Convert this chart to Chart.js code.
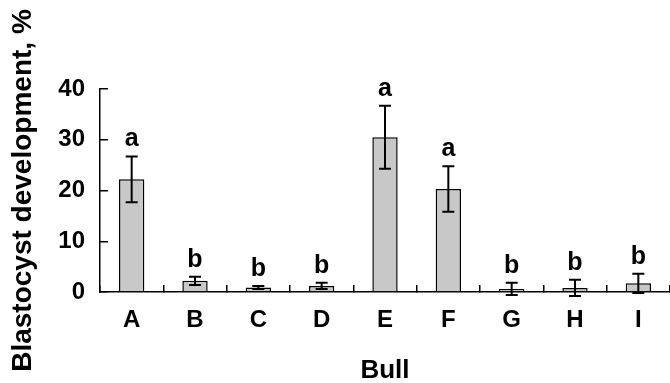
<!DOCTYPE html>
<html>
<head>
<meta charset="utf-8">
<script src="https://cdn.jsdelivr.net/npm/chart.js@4"></script>
<style>
  html, body { margin: 0; padding: 0; background: #fff; }
  #wrap { width: 670px; height: 383px; }
</style>
</head>
<body>
<div id="wrap"><canvas id="chart" width="670" height="383"></canvas></div>
<script>
// Data
const bulls = ['A', 'B', 'C', 'D', 'E', 'F', 'G', 'H', 'I'];
const blastocyst = [22.2, 2.2, 0.9, 1.2, 30.5, 20.3, 0.6, 0.8, 1.7];
const sem = [4.5, 0.8, 0.3, 0.6, 6.2, 4.5, 1.2, 1.6, 1.9];
const letters = ['a', 'b', 'b', 'b', 'a', 'a', 'b', 'b', 'b'];
const yTicks = [0, 10, 20, 30, 40];

const FONT = '"Liberation Sans", Arial, Helvetica, sans-serif';

// Error bars + significance letters
const errorBars = {
    id: 'errorBars',
    afterDatasetsDraw(chart) {
        const { ctx, scales: { x, y } } = chart;
        ctx.save();
        ctx.strokeStyle = '#000';
        ctx.lineWidth = 2;
        ctx.fillStyle = '#000';
        ctx.font = 'bold 25px ' + FONT;
        ctx.textAlign = 'center';
        ctx.textBaseline = 'alphabetic';
        blastocyst.forEach((v, i) => {
            const cx = x.getPixelForValue(i);
            const top = y.getPixelForValue(v + sem[i]);
            const bot = y.getPixelForValue(v - sem[i]);
            ctx.beginPath();
            ctx.moveTo(cx, top); ctx.lineTo(cx, bot);
            ctx.moveTo(cx - 6, top); ctx.lineTo(cx + 6, top);
            ctx.moveTo(cx - 6, bot); ctx.lineTo(cx + 6, bot);
            ctx.stroke();
            ctx.fillText(letters[i], cx, top - 10);
        });
        ctx.restore();
    }
};

const ctx = document.getElementById('chart').getContext('2d');
const chart = new Chart(ctx, {
    type: 'bar',
    data: {
        labels: bulls,
        datasets: [{
            data: blastocyst,
            backgroundColor: '#c8c8c8',
            borderColor: '#000',
            borderWidth: 1.5,
            categoryPercentage: 1,
            barPercentage: 0.4
        }]
    },
    options: {
        responsive: false,
        animation: false,
        layout: { padding: { top: 89, right: 0, bottom: 0, left: 0 } },
        plugins: { legend: { display: false }, tooltip: { enabled: false } },
        scales: {
            x: {
                grid: { drawOnChartArea: false, color: '#000', lineWidth: 1.5, tickLength: -7 },
                border: { color: '#000', width: 1.5 },
                ticks: { color: '#000', font: { family: FONT, size: 24, weight: 'bold' }, padding: 21 },
                title: {
                    display: true, text: 'Bull', color: '#000',
                    font: { family: FONT, size: 26, weight: 'bold', lineHeight: 0.9 },
                    padding: 0
                },
                afterFit: s => { s.height = 91; }
            },
            y: {
                min: 0,
                max: 40,
                afterBuildTicks: s => { s.ticks = yTicks.map(v => ({ value: v })); },
                grid: { drawOnChartArea: false, color: '#000', lineWidth: 1.5, tickLength: -8 },
                border: { color: '#000', width: 1.5 },
                ticks: { color: '#000', font: { family: FONT, size: 24, weight: 'bold' }, padding: 23 },
                title: {
                    display: true, text: 'Blastocyst development, %', color: '#000',
                    font: { family: FONT, size: 28, weight: 'bold', lineHeight: 1.2 },
                    padding: { top: 6, bottom: 0 }
                },
                afterFit: s => { s.width = 100; }
            }
        }
    },
    plugins: [errorBars]
});
</script>
</body>
</html>
